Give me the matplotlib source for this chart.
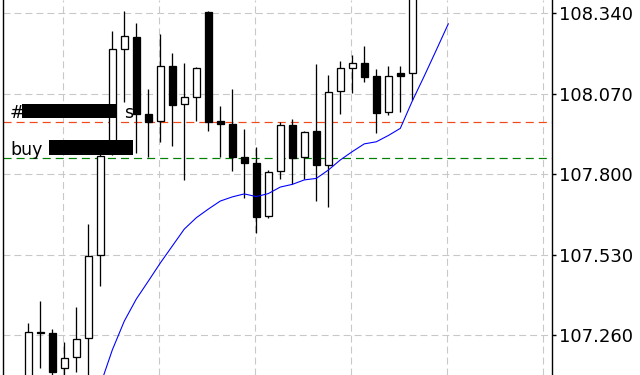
import numpy as np
import matplotlib
matplotlib.use("Agg")
import matplotlib.pyplot as plt
from matplotlib.patches import Rectangle

plt.rcParams['lines.scale_dashes'] = False
plt.rcParams['font.family'] = ['DejaVu Sans']

# ---- data ----
opens = [107.092, 107.272, 107.267, 107.149, 107.186, 107.250, 107.529, 107.871, 108.220, 108.261,
         108.001, 107.978, 108.163, 108.035, 108.061, 108.344, 107.978, 107.969, 107.858, 107.838,
         107.659, 107.810, 107.964, 107.857, 107.944, 107.832, 108.079, 108.156, 108.174, 108.129,
         108.008, 108.140, 108.139]
highs = [107.300, 107.374, 107.280, 107.238, 107.355, 107.633, 107.868, 108.281, 108.348, 108.308,
         108.086, 108.271, 108.207, 108.174, 108.159, 108.348, 108.029, 108.086, 107.952, 107.892,
         107.814, 107.977, 107.986, 107.945, 108.170, 108.133, 108.180, 108.201, 108.231, 108.154,
         108.164, 108.164, 108.470]
lows = [107.059, 107.149, 107.092, 107.109, 107.136, 107.109, 107.426, 107.863, 108.044, 107.872,
        107.859, 107.909, 107.896, 107.782, 107.978, 107.946, 107.859, 107.812, 107.721, 107.604,
        107.652, 107.785, 107.766, 107.783, 107.711, 107.691, 108.003, 108.074, 108.111, 107.940,
        108.000, 108.010, 108.049]
closes = [107.271, 107.268, 107.137, 107.183, 107.247, 107.525, 107.861, 108.220, 108.264, 108.001,
          107.977, 108.163, 108.034, 108.061, 108.156, 107.977, 107.970, 107.859, 107.839, 107.657,
          107.807, 107.964, 107.856, 107.941, 107.832, 108.075, 108.156, 108.173, 108.128, 108.007,
          108.129, 108.131, 108.453]

ma_start = 6
ma_values = [107.092, 107.210, 107.307, 107.381, 107.441, 107.502, 107.559, 107.616, 107.654, 107.683,
             107.710, 107.724, 107.734, 107.725, 107.735, 107.757, 107.766, 107.781, 107.786, 107.814,
             107.848, 107.876, 107.902, 107.909, 107.930, 107.954, 108.046, 108.130, 108.217, 108.305]

sell_level = 107.9765
buy_level = 107.8546

ytick_values = [108.34, 108.07, 107.80, 107.53, 107.26]
ytick_labels = ['108.340', '108.070', '107.800', '107.530', '107.260']

# ---- figure ----
W, H = 640, 375
fig = plt.figure(figsize=(W / 100, H / 100), dpi=100)
fig.patch.set_facecolor('white')
ax_left, ax_right = 3.0, 551.5
ax = fig.add_axes([ax_left / W, 0, (ax_right - ax_left) / W, 1])
ax.set_facecolor('white')

n = len(opens)
x = np.arange(n)
o = np.array(opens); c = np.array(closes)
hi = np.array(highs); lo = np.array(lows)
up = c >= o

px = 0.72  # one pixel in points
# wicks
ax.vlines(x, lo, hi, color='black', lw=1.3 * px, zorder=3)
# bodies
body_w = 0.62
bottoms = np.minimum(o, c)
heights = np.abs(c - o)
ax.bar(x[up], heights[up], bottom=bottoms[up], width=body_w, color='white',
       edgecolor='black', linewidth=1.3 * px, zorder=4)
ax.bar(x[~up], heights[~up], bottom=bottoms[~up], width=body_w, color='black',
       edgecolor='black', linewidth=1.3 * px, zorder=4)

# moving average (shifted)
ma_x = np.arange(ma_start, ma_start + len(ma_values))
ax.plot(ma_x, ma_values, color='#0000FF', lw=1.1 * px, zorder=5)

# order lines
ax.axhline(sell_level, color='#F04A1A', lw=1.2 * px, dashes=(5.8, 3.6), zorder=2)
ax.axhline(buy_level, color='#008000', lw=1.2 * px, dashes=(5.8, 3.6), zorder=2)

# axes limits
ax.set_xlim(-2.108, 43.6)
ax.set_ylim(107.126, 108.385)

# grid
ax.set_xticks(np.arange(3, 44, 8) - 0.07)
ax.set_xticklabels([])
ax.tick_params(axis='x', length=0)
ax.set_yticks(ytick_values)
ax.set_yticklabels(ytick_labels)
ax.yaxis.tick_right()
ax.tick_params(axis='y', direction='out', length=3, width=1.0, pad=2.5,
               labelsize=13, colors='black')
ax.grid(True, color='#c8c8c8', lw=1.1 * px, dashes=(5.0, 2.9), zorder=1)
ax.set_axisbelow(True)

for s in ['top', 'bottom']:
    ax.spines[s].set_visible(False)
for s in ['left', 'right']:
    ax.spines[s].set_color('black')
    ax.spines[s].set_linewidth(1.4 * px)

# labels with redaction boxes (pixel layout)
def fx(p):
    return p / W

def fy(p):
    return 1 - p / H

fig.text(fx(10), fy(117.7), '#', fontsize=12.5, va='baseline', ha='left', zorder=6)
fig.text(fx(124.5), fy(117.7), 's', fontsize=12.5, va='baseline', ha='left', zorder=6)
fig.text(fx(10), fy(155), 'buy', fontsize=12.5, va='baseline', ha='left', zorder=6)
for (x0, y0, x1, y1) in [(21.7, 104.3, 116.7, 118.3), (49.3, 140.0, 132.7, 155.0)]:
    fig.patches.append(Rectangle((fx(x0), fy(y1)), (x1 - x0) / W, (y1 - y0) / H,
                                 transform=fig.transFigure, figure=fig,
                                 facecolor='black', edgecolor='none', zorder=5))

fig.savefig('out.png', dpi=100)
